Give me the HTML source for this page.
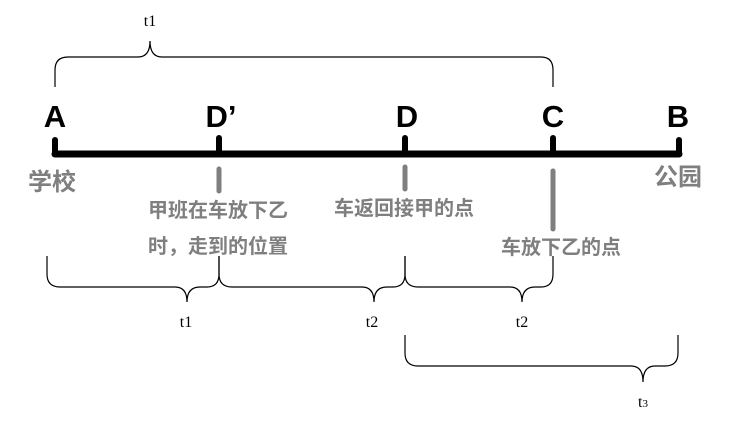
<!DOCTYPE html>
<html><head><meta charset="utf-8"><style>
body{margin:0;background:#fff}
svg{display:block}
.L{font-family:"Liberation Sans",sans-serif;font-weight:bold;font-size:31px;fill:#000}
.c{font-family:"Liberation Sans","Noto Sans CJK SC",sans-serif;font-weight:bold;font-size:20px;fill:#7f7f7f}
.t{font-family:"Liberation Serif",serif;font-size:16px;fill:#000}
</style></head><body>
<svg width="731" height="434" viewBox="0 0 731 434">
<g fill="none" stroke="#000" stroke-width="1.2">
<path d="M55,87 V70 Q55,57 68,57 H138 Q150,57 150,41 Q150,57 162,57 H541 Q553,57 553,70 V87"/>
<path d="M47,256 V274 Q47,287 60,287 H175 Q187,287 187,302 Q187,287 200,287 H207 Q219,287 219,274 V256"/>
<path d="M219,256 V274 Q219,287 232,287 H362 Q374,287 374,302 Q374,287 387,287 H393 Q405,287 405,274 V256"/>
<path d="M405,256 V274 Q405,287 418,287 H510 Q522,287 522,302 Q522,287 535,287 H541 Q553,287 553,274 V256"/>
<path d="M405,335 V353 Q405,366 418,366 H631 Q643,366 643,382 Q643,366 655,366 H665 Q678,366 678,353 V335"/>
</g>
<g stroke="#000" stroke-linecap="round">
<line x1="55" y1="154" x2="679" y2="154" stroke-width="7"/>
<line x1="55" y1="140" x2="55" y2="154" stroke-width="6"/>
<line x1="219" y1="138" x2="219" y2="154" stroke-width="6"/>
<line x1="405" y1="138" x2="405" y2="154" stroke-width="6"/>
<line x1="553" y1="138" x2="553" y2="154" stroke-width="6"/>
<line x1="679" y1="140" x2="679" y2="154" stroke-width="6"/>
</g>
<g stroke="#7f7f7f" stroke-width="5" stroke-linecap="round">
<line x1="219" y1="169" x2="219" y2="191"/>
<line x1="405" y1="167" x2="405" y2="189"/>
<line x1="553" y1="171" x2="553" y2="229"/>
</g>
<text class="L" x="55" y="127" text-anchor="middle">A</text>
<text class="L" x="221" y="127" text-anchor="middle">D’</text>
<text class="L" x="407" y="127" text-anchor="middle">D</text>
<text class="L" x="553" y="127" text-anchor="middle">C</text>
<text class="L" x="678" y="127" text-anchor="middle">B</text>
<text class="c" x="28" y="190" style="font-size:24px">学校</text>
<text class="c" x="654" y="185" style="font-size:24px">公园</text>
<text class="c" x="218" y="217" text-anchor="middle">甲班在车放下乙</text>
<text class="c" x="218" y="253" text-anchor="middle">时，走到的位置</text>
<text class="c" x="404" y="215" text-anchor="middle">车返回接甲的点</text>
<text class="c" x="561" y="254" text-anchor="middle">车放下乙的点</text>
<text class="t" x="150" y="26" text-anchor="middle">t1</text>
<text class="t" x="186" y="327" text-anchor="middle">t1</text>
<text class="t" x="372" y="327" text-anchor="middle">t2</text>
<text class="t" x="522" y="327" text-anchor="middle">t2</text>
<text class="t" x="643" y="407" text-anchor="middle">t<tspan style="font-size:11px">3</tspan></text>
</svg>
</body></html>
